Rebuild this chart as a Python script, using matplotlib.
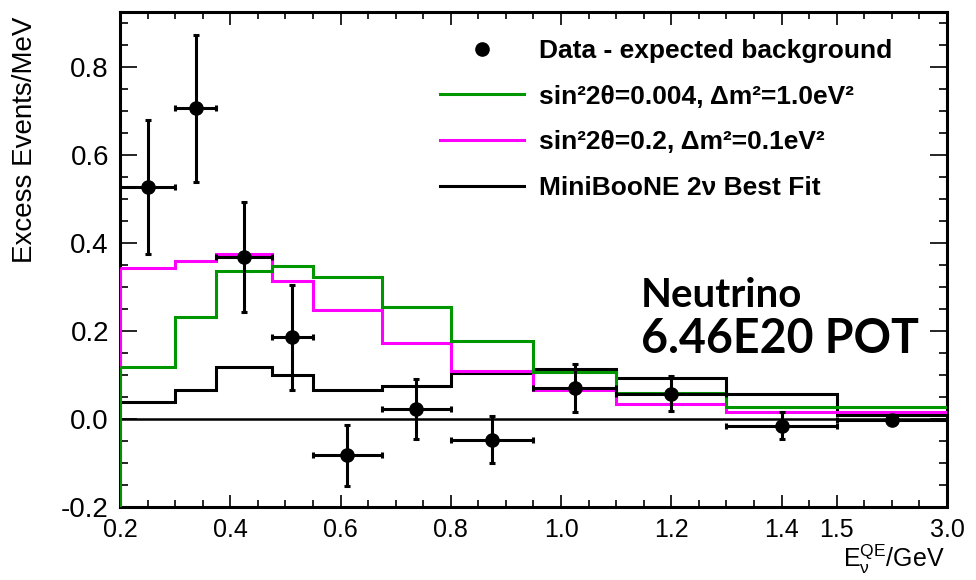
import numpy as np
import matplotlib
matplotlib.use("Agg")
import matplotlib.pyplot as plt
from matplotlib import font_manager
from matplotlib.ticker import FixedLocator, FixedFormatter, MultipleLocator, FormatStrFormatter
from matplotlib.lines import Line2D

# ---------------- data ----------------
bin_edges = [0.2, 0.3, 0.375, 0.475, 0.55, 0.675, 0.8, 0.95, 1.1, 1.3, 1.5, 3.0]
data_excess = [0.526, 0.706, 0.368, 0.185, -0.083, 0.023, -0.047, 0.070, 0.057, -0.015, -0.003]
data_err = [0.152, 0.167, 0.124, 0.120, 0.070, 0.068, 0.053, 0.054, 0.040, 0.030, 0.010]
green_fit = [0.118, 0.231, 0.336, 0.347, 0.322, 0.254, 0.176, 0.106, 0.060, 0.027, 0.027]
magenta_fit = [0.343, 0.359, 0.374, 0.313, 0.248, 0.172, 0.110, 0.065, 0.035, 0.016, 0.016]
best_fit = [0.038, 0.066, 0.117, 0.099, 0.066, 0.075, 0.104, 0.114, 0.094, 0.056, 0.010]
xtick_vals = [0.2, 0.4, 0.6, 0.8, 1.0, 1.2, 1.4, 1.5, 3.0]
xtick_labels = ["0.2", "0.4", "0.6", "0.8", "1.0", "1.2", "1.4", "1.5", "3.0"]
labels = ["Data - expected background",
          "sin\u00b22\u03b8=0.004, \u0394m\u00b2=1.0eV\u00b2",
          "sin\u00b22\u03b8=0.2, \u0394m\u00b2=0.1eV\u00b2",
          "MiniBooNE 2\u03bd Best Fit"]
YMIN, YMAX = -0.2, 0.925

# ---------------- fonts ----------------
names = {f.name for f in font_manager.fontManager.ttflist}
NARROW = "Liberation Sans Narrow" if "Liberation Sans Narrow" in names else "Liberation Sans"
narrow_size = 22 if NARROW == "Liberation Sans Narrow" else 18
plt.rcParams["font.family"] = ["Liberation Sans", "DejaVu Sans"]
plt.rcParams["axes.unicode_minus"] = False
plt.rcParams["mathtext.fontset"] = "custom"
plt.rcParams["mathtext.rm"] = NARROW
plt.rcParams["mathtext.it"] = NARROW

# ---------------- axis scale (compressed last bin) ----------------
K = 0.2 / 1.5
def fwd(x):
    x = np.asarray(x, dtype=float)
    return np.where(x <= 1.5, x, 1.5 + (x - 1.5) * K)
def inv(u):
    u = np.asarray(u, dtype=float)
    return np.where(u <= 1.5, u, 1.5 + (u - 1.5) / K)

fig = plt.figure(figsize=(9.76, 5.8), dpi=100)
ax = fig.add_axes([120/976, 73/580, 827/976, 495.3/580])
ax.set_xscale("function", functions=(fwd, inv))
ax.set_xlim(bin_edges[0], bin_edges[-1])
ax.set_ylim(YMIN, YMAX)

edges = np.array(bin_edges)
centers = 0.5 * (edges[:-1] + edges[1:])
xlo = centers - edges[:-1]
xhi = edges[1:] - centers

GREEN = "#009600"
MAG = "#FF00FF"
LW = 2.2

ax.axhline(0, color="black", lw=1.8, zorder=2)
ax.stairs(best_fit, edges, baseline=None, color="black", lw=LW, zorder=3)
ax.stairs(magenta_fit, edges, baseline=None, color=MAG, lw=LW, zorder=4)
ax.vlines(edges[0], YMIN, magenta_fit[0], color=MAG, lw=LW, zorder=4)
ax.stairs(green_fit, edges, baseline=None, color=GREEN, lw=LW, zorder=5)
ax.vlines(edges[0], YMIN, green_fit[0], color=GREEN, lw=LW, zorder=5)

eb = ax.errorbar(centers, data_excess, yerr=data_err, xerr=[xlo, xhi], fmt="o",
                 color="black", ms=9.5, elinewidth=2.2, capsize=2.5, capthick=2.2, zorder=6)

hb = Line2D([], [], color="black", lw=LW)
hm = Line2D([], [], color=MAG, lw=LW)
hg = Line2D([], [], color=GREEN, lw=LW)
leg = ax.legend([eb[0], hg, hm, hb], labels, loc="upper left",
                bbox_to_anchor=((440-120)/827, (507-39)/495.3), frameon=False,
                prop={"family": "Liberation Sans", "weight": "bold", "size": 19},
                handlelength=3.2, handletextpad=0.55, labelspacing=0.82,
                borderpad=0, borderaxespad=0, numpoints=1)

# annotation text
ax.text((641-120)/827, (507-307)/495.3, "Neutrino", transform=ax.transAxes,
        fontsize=29, fontweight="bold", family=["Lato", "DejaVu Sans"], va="baseline", ha="left")
ax.text((641-120)/827, (507-353)/495.3, "6.46E20 POT", transform=ax.transAxes,
        fontsize=33.5, fontweight="bold", family=["Lato", "DejaVu Sans"], va="baseline", ha="left")

# ticks
ax.xaxis.set_major_locator(FixedLocator(xtick_vals))
ax.xaxis.set_major_formatter(FixedFormatter(xtick_labels))
minor_u = np.arange(0.2, 1.7 + 1e-9, 0.05)
ax.xaxis.set_minor_locator(FixedLocator(inv(minor_u)))
ax.yaxis.set_major_locator(MultipleLocator(0.2))
ax.yaxis.set_minor_locator(MultipleLocator(0.05))
ax.yaxis.set_major_formatter(FormatStrFormatter("%.1f"))
ax.tick_params(axis="both", which="both", direction="in", top=True, right=True, width=1.2)
ax.tick_params(axis="y", which="major", length=12, labelsize=20, pad=8)
ax.tick_params(axis="y", which="minor", length=6)
ax.tick_params(axis="x", which="major", length=9, pad=8)
ax.tick_params(axis="x", which="minor", length=5)
for lab in ax.get_xticklabels():
    lab.set_fontfamily(NARROW)
    lab.set_fontsize(narrow_size)
for sp in ax.spines.values():
    sp.set_linewidth(2.2)
    sp.set_zorder(1)

fig.text(25/976, (580-140)/580, "Excess Events/MeV", rotation=90, fontsize=20,
         ha="center", va="center")
fig.text(945/976, 13/580, r"$\mathregular{E_{\nu}^{QE}}$/GeV", fontsize=narrow_size,
         family=NARROW, ha="right", va="baseline")

fig.savefig("out.png", dpi=100)
